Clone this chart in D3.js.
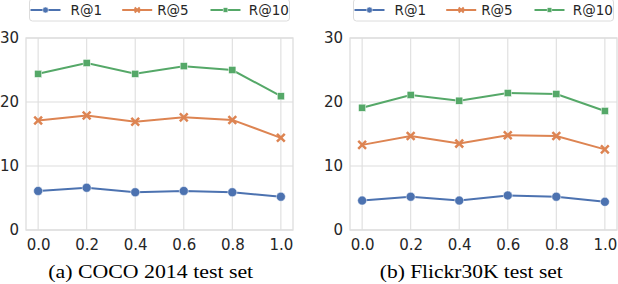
<!DOCTYPE html>
<html><head><meta charset="utf-8">
<script src="https://cdn.jsdelivr.net/npm/d3@7"></script>
<style>body{margin:0;background:#fff}svg{display:block}</style>
</head><body>
<svg id="c" width="618" height="284"></svg>
<script>
const xValues = [0.0, 0.2, 0.4, 0.6, 0.8, 1.0];
const xTickLabels = ["0.0", "0.2", "0.4", "0.6", "0.8", "1.0"];
const yTicks = [0, 10, 20, 30];
const seriesNames = ["R@1", "R@5", "R@10"];
const cocoR1 = [6.1, 6.6, 5.9, 6.1, 5.9, 5.2];
const cocoR5 = [17.1, 17.9, 16.9, 17.6, 17.2, 14.4];
const cocoR10 = [24.4, 26.1, 24.4, 25.6, 25.0, 20.9];
const flickrR1 = [4.6, 5.2, 4.6, 5.4, 5.2, 4.4];
const flickrR5 = [13.3, 14.7, 13.5, 14.8, 14.7, 12.6];
const flickrR10 = [19.1, 21.1, 20.2, 21.4, 21.25, 18.6];
const captions = ["(a) COCO 2014 test set", "(b) Flickr30K test set"];

const colors = ["#4C72B0", "#DD8452", "#55A868"];
const markers = ["circle", "x", "square"];
const gridColor = "#dedede";
const textColor = "#262626";

const svg = d3.select("#c");
const panels = [
  {left: 26, right: 293, series: [cocoR1, cocoR5, cocoR10], caption: captions[0], capX: 150.7, capLen: 205},
  {left: 350, right: 617, series: [flickrR1, flickrR5, flickrR10], caption: captions[1], capX: 471.3, capLen: 183}
];
const plotTop = 38, plotBottom = 230;

function drawMarker(g, type, cx, cy, color, s) {
  if (type === "circle") {
    g.append("circle").attr("cx", cx).attr("cy", cy).attr("r", 4.5 * s)
      .attr("fill", color).attr("stroke", "#fff").attr("stroke-width", 0.5);
  } else if (type === "square") {
    const h = 3.6 * s;
    g.append("rect").attr("x", cx - h).attr("y", cy - h).attr("width", 2 * h).attr("height", 2 * h)
      .attr("fill", color).attr("stroke", "#fff").attr("stroke-width", 0.5);
  } else {
    const h = 3.9 * s;
    g.append("path").attr("d", `M${cx-h},${cy-h}L${cx+h},${cy+h}M${cx-h},${cy+h}L${cx+h},${cy-h}`)
      .attr("stroke", color).attr("stroke-width", 2.5 * Math.max(s, 0.8)).attr("fill", "none");
  }
}

panels.forEach(p => {
  const x = d3.scaleLinear().domain([-0.05, 1.05]).range([p.left, p.right]);
  const y = d3.scaleLinear().domain([0, 30]).range([plotBottom, plotTop]);
  const g = svg.append("g");

  g.selectAll(".vg").data(xValues).join("line")
    .attr("x1", d => x(d)).attr("x2", d => x(d)).attr("y1", plotTop).attr("y2", plotBottom)
    .attr("stroke", gridColor).attr("stroke-width", 1.1);
  g.selectAll(".hg").data(yTicks).join("line")
    .attr("x1", p.left).attr("x2", p.right).attr("y1", d => y(d)).attr("y2", d => y(d))
    .attr("stroke", gridColor).attr("stroke-width", 1.1);
  g.append("rect").attr("x", p.left).attr("y", plotTop).attr("width", p.right - p.left).attr("height", plotBottom - plotTop)
    .attr("fill", "none").attr("stroke", gridColor).attr("stroke-width", 1.3);

  const yAxis = d3.axisLeft(y).tickValues(yTicks).tickSize(0).tickPadding(7).tickFormat(d3.format("d"));
  const ya = g.append("g").attr("transform", `translate(${p.left},0)`).call(yAxis);
  ya.select(".domain").remove();
  ya.selectAll("text").attr("font-family", "DejaVu Sans").attr("font-size", 15).attr("fill", textColor);

  const xAxis = d3.axisBottom(x).tickValues(xValues).tickSize(0).tickPadding(9)
    .tickFormat((d, i) => xTickLabels[i]);
  const xa = g.append("g").attr("transform", `translate(0,${plotBottom})`).call(xAxis);
  xa.select(".domain").remove();
  xa.selectAll("text").attr("font-family", "DejaVu Sans").attr("font-size", 15).attr("fill", textColor);

  const line = d3.line().x((d, i) => x(xValues[i])).y(d => y(d));
  p.series.forEach((s, k) => {
    g.append("path").datum(s).attr("d", line).attr("fill", "none")
      .attr("stroke", colors[k]).attr("stroke-width", 2);
    s.forEach((v, i) => drawMarker(g, markers[k], x(xValues[i]), y(v), colors[k], 1));
  });

  const cx = (p.left + p.right) / 2;
  const lw = 260, lx = cx - lw / 2;
  const lg = svg.append("g");
  lg.append("rect").attr("x", lx).attr("y", -1).attr("width", lw).attr("height", 22).attr("rx", 3)
    .attr("fill", "#fff").attr("stroke", "#dcdcdc").attr("stroke-width", 1);
  const handleOff = [1, 92.7, 181];
  const textOff = [41, 127.7, 219.3];
  seriesNames.forEach((n, k) => {
    const hx = lx + handleOff[k];
    lg.append("line").attr("x1", hx).attr("x2", hx + 30).attr("y1", 10).attr("y2", 10)
      .attr("stroke", colors[k]).attr("stroke-width", 2);
    drawMarker(lg, markers[k], hx + 15, 10, colors[k], 0.65);
    lg.append("text").attr("x", lx + textOff[k]).attr("y", 15).text(n)
      .attr("font-family", "DejaVu Sans").attr("font-size", 13.5).attr("fill", textColor);
  });

  svg.append("text").attr("x", p.capX).attr("y", 278).attr("text-anchor", "middle")
    .attr("font-family", "Liberation Serif").attr("font-size", 19).attr("fill", "#000")
    .attr("textLength", p.capLen).attr("lengthAdjust", "spacingAndGlyphs").text(p.caption);
});
</script>
</body></html>
